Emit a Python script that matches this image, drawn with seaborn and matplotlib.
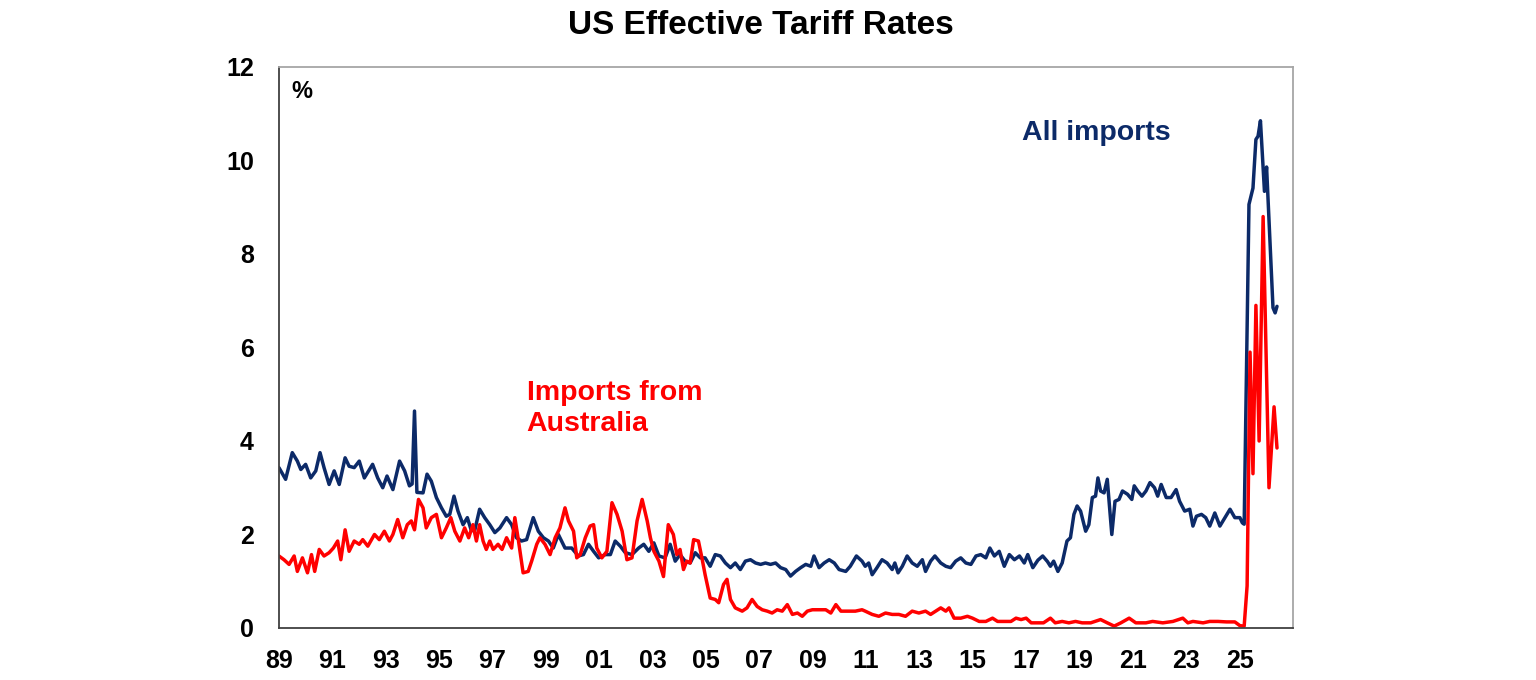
import pandas as pd
import seaborn as sns
import matplotlib.pyplot as plt

# -------------------------------------------------------------------
# Data (decimal years / per cent)
# -------------------------------------------------------------------

all_years = [
    1989.00, 1989.25, 1989.50, 1989.69, 1989.82, 1990.00, 1990.19, 1990.38, 1990.54, 1990.69,
    1990.88, 1991.07, 1991.26, 1991.48, 1991.63, 1991.82, 1992.01, 1992.20, 1992.51, 1992.70,
    1992.89, 1993.05, 1993.27, 1993.52, 1993.71, 1993.89, 1993.99, 1994.08, 1994.17, 1994.40,
    1994.55, 1994.71, 1994.90, 1995.09, 1995.27, 1995.40, 1995.56, 1995.71, 1995.90, 1996.06,
    1996.20, 1996.33, 1996.52, 1996.71, 1996.90, 1997.09, 1997.28, 1997.53, 1997.72, 1997.90,
    1998.09, 1998.28, 1998.53, 1998.72, 1998.91, 1999.10, 1999.28, 1999.47, 1999.72, 1999.97,
    2000.22, 2000.41, 2000.60, 2000.79, 2000.98, 2001.23, 2001.42, 2001.60, 2001.79, 2001.98,
    2002.23, 2002.48, 2002.67, 2002.86, 2003.05, 2003.24, 2003.47, 2003.66, 2003.85, 2004.03,
    2004.22, 2004.41, 2004.60, 2004.79, 2004.97, 2005.16, 2005.35, 2005.54, 2005.73, 2005.92,
    2006.10, 2006.29, 2006.48, 2006.67, 2006.86, 2007.05, 2007.23, 2007.42, 2007.61, 2007.80,
    2007.99, 2008.17, 2008.36, 2008.55, 2008.74, 2008.93, 2009.05, 2009.24, 2009.43, 2009.62,
    2009.81, 2009.99, 2010.24, 2010.41, 2010.64, 2010.85, 2010.97, 2011.10, 2011.23, 2011.41,
    2011.60, 2011.79, 2011.98, 2012.08, 2012.20, 2012.36, 2012.54, 2012.73, 2012.92, 2013.11,
    2013.23, 2013.42, 2013.58, 2013.80, 2013.99, 2014.17, 2014.36, 2014.55, 2014.74, 2014.93,
    2015.12, 2015.30, 2015.49, 2015.64, 2015.81, 2015.99, 2016.18, 2016.37, 2016.56, 2016.75,
    2016.93, 2017.06, 2017.25, 2017.44, 2017.62, 2017.80, 2017.91, 2018.03, 2018.19, 2018.35,
    2018.53, 2018.66, 2018.79, 2018.91, 2019.04, 2019.23, 2019.35, 2019.48, 2019.60, 2019.69,
    2019.79, 2019.92, 2020.04, 2020.21, 2020.33, 2020.48, 2020.61, 2020.80, 2020.96, 2021.05,
    2021.18, 2021.34, 2021.49, 2021.64, 2021.81, 2021.93, 2022.06, 2022.25, 2022.43, 2022.62,
    2022.75, 2022.94, 2023.13, 2023.25, 2023.38, 2023.57, 2023.73, 2023.88, 2024.07, 2024.26,
    2024.45, 2024.64, 2024.82, 2025.01, 2025.10, 2025.17, 2025.35, 2025.50, 2025.61, 2025.69,
    2025.78, 2025.93, 2026.01, 2026.25, 2026.33, 2026.40,
]
all_rate = [
    3.43, 3.18, 3.75, 3.57, 3.39, 3.50, 3.21, 3.36, 3.75, 3.43,
    3.07, 3.36, 3.07, 3.64, 3.46, 3.43, 3.57, 3.21, 3.50, 3.21,
    3.00, 3.25, 2.96, 3.57, 3.36, 3.04, 3.08, 4.64, 2.90, 2.89,
    3.29, 3.14, 2.79, 2.57, 2.39, 2.43, 2.82, 2.50, 2.21, 2.36,
    2.10, 2.07, 2.54, 2.36, 2.21, 2.04, 2.14, 2.36, 2.21, 1.93,
    1.86, 1.89, 2.36, 2.07, 1.93, 1.86, 1.71, 2.00, 1.71, 1.71,
    1.54, 1.57, 1.79, 1.64, 1.50, 1.57, 1.57, 1.86, 1.75, 1.61,
    1.57, 1.71, 1.79, 1.64, 1.82, 1.54, 1.50, 1.79, 1.43, 1.57,
    1.43, 1.39, 1.61, 1.50, 1.50, 1.32, 1.57, 1.54, 1.39, 1.29,
    1.39, 1.25, 1.43, 1.46, 1.39, 1.36, 1.39, 1.36, 1.39, 1.29,
    1.25, 1.11, 1.21, 1.29, 1.36, 1.32, 1.54, 1.29, 1.39, 1.46,
    1.39, 1.25, 1.21, 1.32, 1.54, 1.43, 1.32, 1.39, 1.14, 1.29,
    1.46, 1.39, 1.25, 1.39, 1.18, 1.32, 1.54, 1.39, 1.32, 1.46,
    1.21, 1.43, 1.54, 1.39, 1.32, 1.29, 1.43, 1.50, 1.39, 1.36,
    1.54, 1.57, 1.50, 1.71, 1.54, 1.64, 1.32, 1.57, 1.46, 1.54,
    1.39, 1.57, 1.29, 1.45, 1.54, 1.42, 1.32, 1.43, 1.21, 1.39,
    1.86, 1.93, 2.43, 2.61, 2.50, 2.07, 2.21, 2.79, 2.82, 3.21,
    2.93, 2.89, 3.18, 2.00, 2.71, 2.75, 2.93, 2.86, 2.75, 3.04,
    2.93, 2.82, 2.93, 3.11, 3.00, 2.82, 3.07, 2.79, 2.79, 2.96,
    2.71, 2.50, 2.54, 2.18, 2.39, 2.43, 2.36, 2.18, 2.46, 2.18,
    2.36, 2.54, 2.36, 2.36, 2.25, 2.22, 9.06, 9.41, 10.45, 10.52,
    10.85, 9.34, 9.86, 6.85, 6.74, 6.88,
]

aus_years = [
    1989.00, 1989.19, 1989.38, 1989.57, 1989.69, 1989.88, 1990.07, 1990.22, 1990.34, 1990.51,
    1990.69, 1990.88, 1991.04, 1991.20, 1991.32, 1991.48, 1991.63, 1991.82, 1992.01, 1992.14,
    1992.33, 1992.58, 1992.76, 1992.95, 1993.14, 1993.27, 1993.45, 1993.64, 1993.81, 1993.96,
    1994.08, 1994.23, 1994.40, 1994.52, 1994.71, 1994.90, 1995.09, 1995.27, 1995.44, 1995.59,
    1995.78, 1995.96, 1996.11, 1996.27, 1996.40, 1996.52, 1996.65, 1996.77, 1996.90, 1997.03,
    1997.21, 1997.36, 1997.53, 1997.72, 1997.84, 1997.97, 1998.15, 1998.34, 1998.47, 1998.66,
    1998.78, 1998.97, 1999.16, 1999.35, 1999.53, 1999.72, 1999.85, 2000.04, 2000.16, 2000.29,
    2000.48, 2000.66, 2000.79, 2000.91, 2001.10, 2001.29, 2001.48, 2001.67, 2001.86, 2002.04,
    2002.23, 2002.42, 2002.61, 2002.80, 2002.92, 2003.05, 2003.24, 2003.41, 2003.59, 2003.78,
    2003.91, 2004.03, 2004.16, 2004.28, 2004.41, 2004.54, 2004.72, 2004.85, 2004.97, 2005.16,
    2005.35, 2005.48, 2005.66, 2005.79, 2005.92, 2006.10, 2006.36, 2006.54, 2006.73, 2006.92,
    2007.11, 2007.30, 2007.48, 2007.67, 2007.86, 2008.05, 2008.24, 2008.43, 2008.61, 2008.80,
    2008.99, 2009.24, 2009.49, 2009.68, 2009.87, 2010.06, 2010.31, 2010.60, 2010.85, 2010.97,
    2011.23, 2011.48, 2011.73, 2011.98, 2012.23, 2012.48, 2012.73, 2012.98, 2013.23, 2013.42,
    2013.61, 2013.80, 2013.99, 2014.11, 2014.30, 2014.55, 2014.80, 2014.99, 2015.24, 2015.49,
    2015.74, 2015.93, 2016.18, 2016.43, 2016.62, 2016.81, 2017.00, 2017.19, 2017.44, 2017.65,
    2017.91, 2018.09, 2018.35, 2018.60, 2018.85, 2019.10, 2019.42, 2019.79, 2020.04, 2020.30,
    2020.55, 2020.86, 2021.11, 2021.49, 2021.74, 2022.12, 2022.50, 2022.87, 2023.06, 2023.25,
    2023.63, 2023.88, 2024.19, 2024.51, 2024.82, 2025.01, 2025.17, 2025.28, 2025.39, 2025.50,
    2025.61, 2025.73, 2025.88, 2026.10, 2026.29, 2026.40,
]
aus_rate = [
    1.54, 1.46, 1.36, 1.54, 1.21, 1.50, 1.18, 1.57, 1.21, 1.68,
    1.54, 1.61, 1.71, 1.86, 1.46, 2.10, 1.64, 1.86, 1.79, 1.89,
    1.75, 2.00, 1.89, 2.07, 1.86, 2.00, 2.32, 1.93, 2.21, 2.29,
    2.10, 2.75, 2.57, 2.14, 2.36, 2.43, 1.93, 2.14, 2.36, 2.07,
    1.86, 2.14, 1.93, 2.21, 1.86, 2.21, 1.86, 1.68, 1.86, 1.68,
    1.79, 1.68, 1.93, 1.71, 2.36, 1.89, 1.18, 1.21, 1.43, 1.79,
    1.93, 1.79, 1.57, 1.93, 2.14, 2.57, 2.29, 2.07, 1.50, 1.57,
    1.93, 2.18, 2.21, 1.71, 1.50, 1.64, 2.68, 2.43, 2.07, 1.46,
    1.50, 2.29, 2.75, 2.29, 1.93, 1.64, 1.43, 1.10, 2.21, 2.00,
    1.57, 1.68, 1.25, 1.43, 1.39, 1.89, 1.86, 1.50, 1.14, 0.64,
    0.61, 0.54, 0.93, 1.04, 0.61, 0.43, 0.36, 0.43, 0.61, 0.46,
    0.39, 0.36, 0.32, 0.39, 0.36, 0.50, 0.29, 0.32, 0.25, 0.36,
    0.39, 0.39, 0.39, 0.32, 0.50, 0.36, 0.36, 0.36, 0.39, 0.36,
    0.29, 0.25, 0.32, 0.29, 0.29, 0.25, 0.36, 0.32, 0.36, 0.29,
    0.36, 0.43, 0.36, 0.43, 0.21, 0.21, 0.25, 0.21, 0.14, 0.14,
    0.21, 0.14, 0.14, 0.14, 0.21, 0.18, 0.21, 0.11, 0.11, 0.11,
    0.21, 0.11, 0.14, 0.11, 0.14, 0.11, 0.11, 0.18, 0.11, 0.04,
    0.11, 0.21, 0.11, 0.11, 0.14, 0.11, 0.14, 0.21, 0.11, 0.14,
    0.11, 0.14, 0.14, 0.13, 0.13, 0.05, 0.04, 0.90, 5.90, 3.30,
    6.90, 4.00, 8.80, 3.00, 4.73, 3.85,
]

tick_years = list(range(1989, 2028, 2))
tick_labels = ["89", "91", "93", "95", "97", "99", "01", "03", "05", "07",
               "09", "11", "13", "15", "17", "19", "21", "23", "25", ""]
y_ticks = [0, 2, 4, 6, 8, 10, 12]

df_all = pd.DataFrame({"year": all_years, "rate": all_rate})
df_aus = pd.DataFrame({"year": aus_years, "rate": aus_rate})

# -------------------------------------------------------------------
# Plot
# -------------------------------------------------------------------

sns.set_style("white")
plt.rcParams["font.family"] = ["Liberation Sans", "DejaVu Sans"]
plt.rcParams["font.weight"] = "bold"
plt.rcParams["text.color"] = "black"
plt.rcParams["xtick.labelcolor"] = "black"
plt.rcParams["ytick.labelcolor"] = "black"

navy = "#0c2a68"
red = "#ff0000"

fig = plt.figure(figsize=(15.36, 6.8), dpi=100)
ax = fig.add_axes([0.1816, 0.0765, 0.6602, 0.825])

sns.lineplot(data=df_all, x="year", y="rate", color=navy, linewidth=2.5, ax=ax)
sns.lineplot(data=df_aus, x="year", y="rate", color=red, linewidth=2.5, ax=ax)

ax.set_xlim(1989, 2027)
ax.set_ylim(0, 12)
ax.set_xticks(tick_years)
ax.set_xticklabels(tick_labels)
ax.set_yticks(y_ticks)
ax.set_xlabel("")
ax.set_ylabel("")

ax.tick_params(axis="both", direction="out", length=6, width=1.2, color="#555555",
               labelsize=18, labelcolor="black", pad=9)
ax.tick_params(axis="y", pad=12)
for lab in ax.get_xticklabels() + ax.get_yticklabels():
    lab.set_fontweight("bold")

for side in ["left", "bottom"]:
    ax.spines[side].set_color("#404040")
    ax.spines[side].set_linewidth(1.3)
for side in ["top", "right"]:
    ax.spines[side].set_color("#a6a6a6")
    ax.spines[side].set_linewidth(1.3)

# Labels inside the chart
ax.text(1989.45, 11.47, "%", fontsize=17, fontweight="bold", color="black",
        va="center", ha="left")
ax.text(2016.86, 10.59, "All imports", fontsize=20.5, fontweight="bold",
        color=navy, va="center", ha="left")
ax.text(1998.28, 4.70, "Imports from\nAustralia", fontsize=20.5, fontweight="bold",
        color=red, va="center", ha="left", linespacing=1.25)

fig.text(0.4954, 0.962, "US Effective Tariff Rates", fontsize=24, fontweight="bold",
         color="black", ha="center", va="center")

plt.savefig("out.png", dpi=100)
plt.close()
